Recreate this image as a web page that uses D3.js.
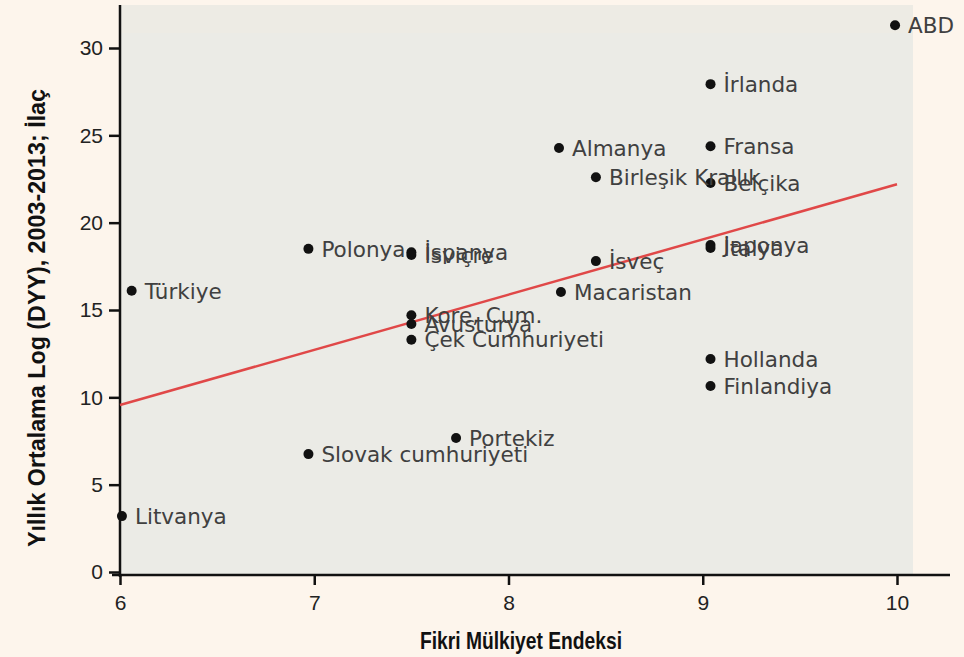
<!DOCTYPE html>
<html>
<head>
<meta charset="utf-8">
<script src="https://cdn.jsdelivr.net/npm/d3@7"></script>
<style>
  body { margin: 0; background: #fdf5ec; }
  svg { display: block; }
  .lbl { font-family: "DejaVu Sans", sans-serif; font-size: 21.5px; fill: #404040; }
  .tick text { font-family: "Liberation Sans Narrow", "Arial Narrow", sans-serif; font-stretch: condensed; font-size: 21px; fill: #222; }
  .title { font-family: "Liberation Sans Narrow", "Arial Narrow", sans-serif; font-weight: bold; font-size: 24px; fill: #111; }
</style>
</head>
<body>
<svg id="chart"></svg>
<script>
// ulkeler ve degerler
const countries = ["Litvanya", "Türkiye", "Polonya", "İspanya", "İsviçre", "Kore, Cum.", "Avusturya",
  "Çek Cumhuriyeti", "Slovak cumhuriyeti", "Portekiz", "Macaristan", "İsveç", "Almanya",
  "Birleşik Krallık", "İrlanda", "Fransa", "Belçika", "Japonya", "İtalya", "Hollanda", "Finlandiya", "ABD"];
const ipIndex = [6.01, 6.06, 6.97, 7.50, 7.50, 7.50, 7.50, 7.50, 6.97, 7.73, 8.27, 8.45, 8.26,
  8.45, 9.04, 9.04, 9.04, 9.04, 9.04, 9.04, 9.04, 9.99];
const fdiLog = [3.2, 16.1, 18.5, 18.3, 18.15, 14.7, 14.2, 13.3, 6.75, 7.67, 16.03, 17.8, 24.27,
  22.6, 27.93, 24.38, 22.27, 18.72, 18.55, 12.19, 10.65, 31.3];
const fitLine = [[6, 9.56], [10, 22.2]];
const xTicks = [6, 7, 8, 9, 10];
const yTicks = [0, 5, 10, 15, 20, 25, 30];

const W = 964, H = 657;
const svg = d3.select('#chart').attr('width', W).attr('height', H);

const x = d3.scaleLinear().domain([6, 10]).range([120, 897]);
const y = d3.scaleLinear().domain([0, 30]).range([572, 48]);

// gri plot alani
svg.append('rect')
  .attr('x', 120).attr('y', 5)
  .attr('width', 793).attr('height', 569)
  .attr('fill', '#ebebe6');
svg.append('rect')
  .attr('x', 120).attr('y', 5)
  .attr('width', 793).attr('height', 28)
  .attr('fill', '#edebe4');

// eksenler
const xAxis = d3.axisBottom(x).tickValues(xTicks).tickSize(10).tickPadding(10).tickFormat(d3.format('d'));
const gx = svg.append('g')
  .attr('transform', 'translate(0,575)')
  .call(xAxis);
gx.select('.domain').attr('d', 'M112,0H950');

const yAxis = d3.axisLeft(y).tickValues(yTicks).tickSize(11).tickPadding(6);
const gy = svg.append('g')
  .attr('transform', 'translate(120,0)')
  .call(yAxis);
gy.select('.domain').attr('d', 'M0,5V577');

svg.selectAll('.domain').attr('stroke', '#111').attr('stroke-width', 2.5);
svg.selectAll('.tick line').attr('stroke', '#111').attr('stroke-width', 2.5);

// regresyon cizgisi
svg.append('line')
  .attr('x1', x(fitLine[0][0])).attr('y1', y(fitLine[0][1]))
  .attr('x2', x(fitLine[1][0])).attr('y2', y(fitLine[1][1]))
  .attr('stroke', '#e04848').attr('stroke-width', 2.5);

// noktalar
const pts = countries.map((c, i) => ({ name: c, x: ipIndex[i], y: fdiLog[i] }));

svg.selectAll('.dot')
  .data(pts)
  .join('circle')
    .attr('class', 'dot')
    .attr('cx', d => x(d.x))
    .attr('cy', d => y(d.y))
    .attr('r', 5)
    .attr('fill', '#111');

svg.selectAll('.lbl')
  .data(pts)
  .join('text')
    .attr('class', 'lbl')
    .attr('x', d => x(d.x) + 13)
    .attr('y', d => y(d.y))
    .attr('dy', '0.36em')
    .text(d => d.name);

// eksen basliklari
svg.append('text')
  .attr('class', 'title')
  .attr('x', 521).attr('y', 649)
  .attr('text-anchor', 'middle')
  .attr('textLength', 202)
  .attr('lengthAdjust', 'spacingAndGlyphs')
  .text('Fikri Mülkiyet Endeksi');

svg.append('text')
  .attr('class', 'title')
  .attr('transform', 'translate(45,318) rotate(-90)')
  .attr('text-anchor', 'middle')
  .attr('textLength', 458)
  .attr('lengthAdjust', 'spacingAndGlyphs')
  .text('Yıllık Ortalama Log (DYY), 2003-2013; İlaç');
</script>
</body>
</html>
